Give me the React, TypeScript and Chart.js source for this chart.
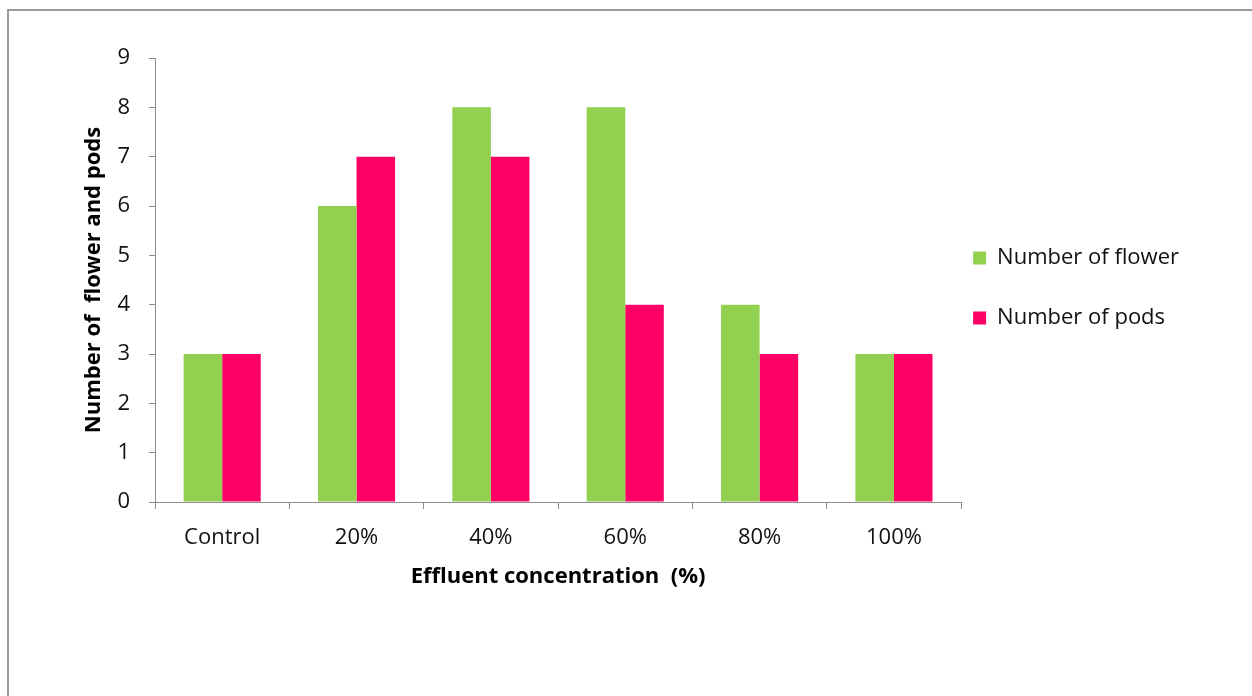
import React, { useEffect, useRef } from "react";
import { Chart, registerables } from "chart.js";

Chart.register(...registerables);

const categories = ["Control", "20%", "40%", "60%", "80%", "100%"];
const flowerValues = [3, 6, 8, 8, 4, 3];
const podValues = [3, 7, 7, 4, 3, 3];
const seriesNames = ["Number of flower", "Number of pods"];
const yTitle = "Number of  flower and pods";
const xTitle = "Effluent concentration  (%)";

const FONT = "'Open Sans', 'Noto Sans', sans-serif";
const AXIS_COLOR = "#8c8c8c";

const legendShift = {
  id: "legendShift",
  afterLayout(chart: any) {
    const lg = chart.legend;
    if (!lg) return;
    const w = lg.width;
    lg.left = chart.chartArea.right - 26;
    lg.right = lg.left + w;
    lg.top += 8;
    lg.bottom += 8;
  },
};

export default function App() {
  const ref = useRef<HTMLCanvasElement | null>(null);

  useEffect(() => {
    if (!ref.current) return;
    const chart = new Chart(ref.current, {
      type: "bar",
      data: {
        labels: categories,
        datasets: [
          {
            label: seriesNames[0],
            data: flowerValues,
            backgroundColor: "#92D050",
            borderWidth: 0,
          },
          {
            label: seriesNames[1],
            data: podValues,
            backgroundColor: "#FF0066",
            borderWidth: 0,
          },
        ],
      },
      options: {
        responsive: false,
        animation: false,
        devicePixelRatio: 1,
        layout: { padding: { top: 58, left: 77, bottom: 102, right: 37 } },
        datasets: {
          bar: { categoryPercentage: 0.574, barPercentage: 1.0 },
        },
        plugins: {
          tooltip: { enabled: false },
          legend: {
            position: "right",
            fullSize: false,
            labels: {
              boxWidth: 13,
              boxHeight: 13,
              padding: 38,
              color: "#111",
              font: { family: FONT, size: 22 },
            },
          },
        },
        scales: {
          x: {
            afterFit(scale: any) {
              scale.height = 92;
            },
            grid: {
              offset: true,
              drawOnChartArea: false,
              drawTicks: true,
              tickLength: 7,
              color: AXIS_COLOR,
            },
            border: { color: AXIS_COLOR, width: 1 },
            ticks: {
              color: "#111",
              padding: 16,
              maxRotation: 0,
              font: { family: FONT, size: 22 },
            },
            title: {
              display: true,
              text: xTitle,
              color: "#000",
              font: { family: FONT, size: 22, weight: "bold" },
              padding: { top: 4, bottom: 4 },
            },
          },
          y: {
            min: 0,
            max: 9,
            afterFit(scale: any) {
              scale.width = 78;
            },
            grid: {
              drawOnChartArea: false,
              drawTicks: true,
              tickLength: 6,
              color: AXIS_COLOR,
            },
            border: { color: AXIS_COLOR, width: 1 },
            ticks: {
              stepSize: 1,
              color: "#111",
              padding: 19,
              font: { family: FONT, size: 22 },
            },
            title: {
              display: true,
              text: yTitle,
              color: "#000",
              font: { family: FONT, size: 22, weight: "bold" },
              padding: { top: 4, bottom: 4 },
            },
          },
        },
      },
      plugins: [legendShift],
    } as any);
    return () => chart.destroy();
  }, []);

  return (
    <div
      style={{
        position: "absolute",
        left: 0,
        top: 0,
        width: 1252,
        height: 696,
        overflow: "hidden",
        background: "#fff",
      }}
    >
      <div
        style={{
          position: "absolute",
          left: 7,
          top: 9,
          width: 1400,
          height: 800,
          borderTop: "2px solid #9a9a9a",
          borderLeft: "2px solid #9a9a9a",
          boxSizing: "border-box",
        }}
      />
      <canvas
        ref={ref}
        width={1252}
        height={696}
        style={{ position: "absolute", left: 0, top: 0, width: 1252, height: 696 }}
      />
    </div>
  );
}
